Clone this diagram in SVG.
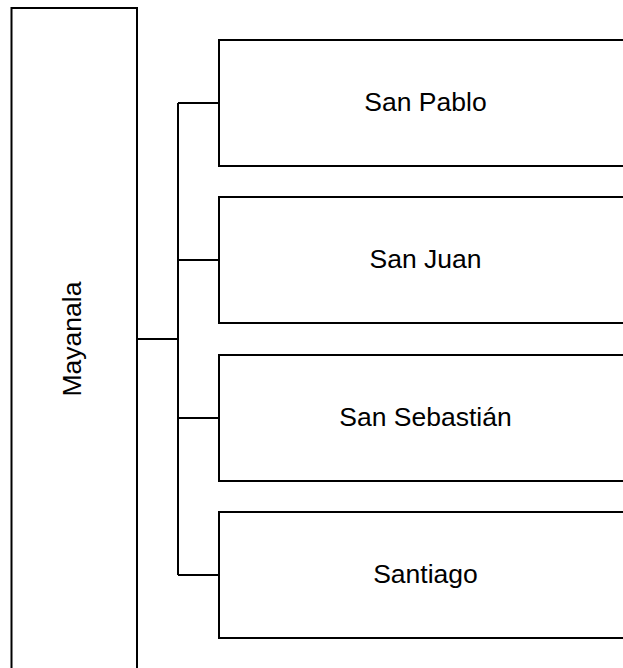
<svg xmlns="http://www.w3.org/2000/svg" width="623" height="668" viewBox="0 0 623 668">
<style>
.box{fill:#fff;stroke:#000;stroke-width:2}
.lbl{font-family:"Liberation Sans",Arial,sans-serif;font-size:26.5px;fill:#000;text-anchor:middle;dominant-baseline:central}
.con{fill:none;stroke:#000;stroke-width:2}
</style>
<rect width="623" height="668" fill="#fff"/>
<g id="connectors">
<path class="con" d="M137 339H178M178 103V575M178 103H219M178 260H219M178 418H219M178 575H219"/>
</g>
<g id="mayanala">
<rect class="box" x="11.5" y="8" width="125.5" height="680"/>
<text class="lbl" transform="translate(72 339) rotate(-90)">Mayanala</text>
</g>
<g id="san-pablo">
<rect class="box" x="219" y="40" width="413" height="126"/>
<text class="lbl" x="425.5" y="102">San Pablo</text>
</g>
<g id="san-juan">
<rect class="box" x="219" y="197" width="413" height="126"/>
<text class="lbl" x="425.5" y="259">San Juan</text>
</g>
<g id="san-sebastian">
<rect class="box" x="219" y="355" width="413" height="126"/>
<text class="lbl" x="425.5" y="417">San Sebastián</text>
</g>
<g id="santiago">
<rect class="box" x="219" y="512" width="413" height="126"/>
<text class="lbl" x="425.5" y="574">Santiago</text>
</g>
</svg>
